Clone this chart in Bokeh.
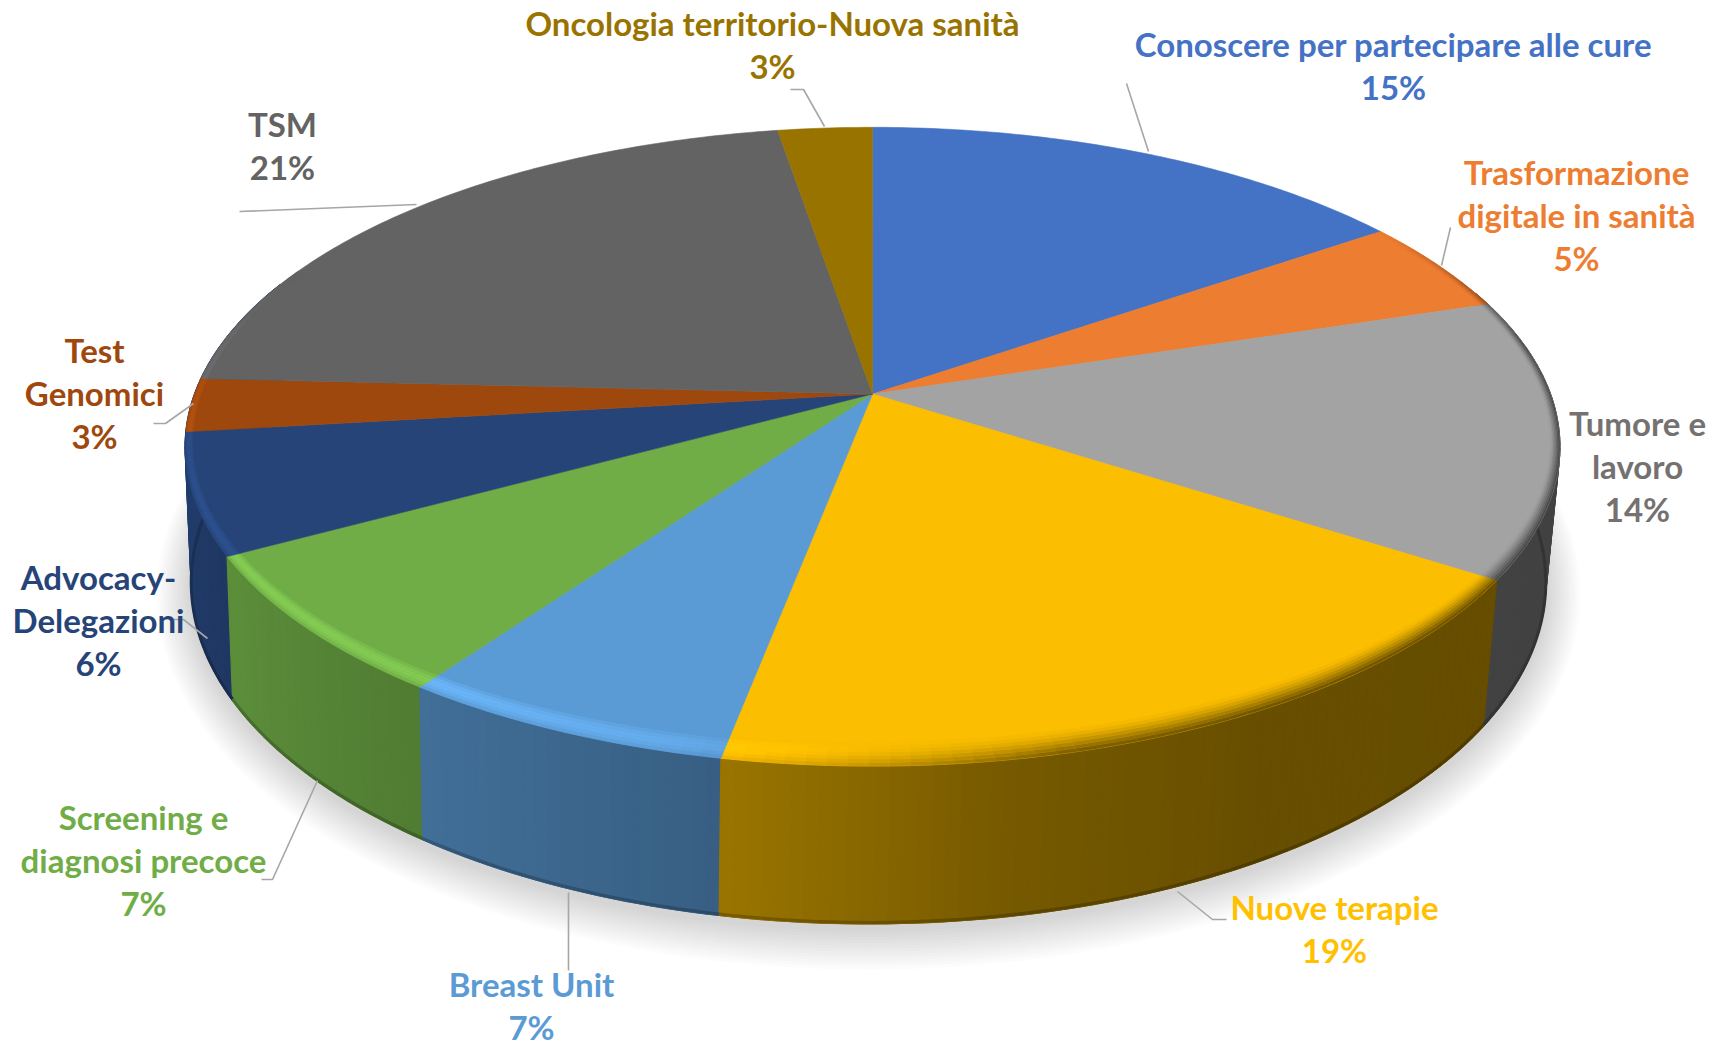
import numpy as np
from bokeh.plotting import figure
from bokeh.models import Range1d, ColumnDataSource
from bokeh.core.properties import value
from bokeh.embed import file_html
from bokeh.resources import INLINE

# ---- data
categories = ["Conoscere per partecipare alle cure", "Trasformazione digitale in sanità",
              "Tumore e lavoro", "Nuove terapie", "Breast Unit", "Screening e diagnosi precoce",
              "Advocacy-Delegazioni", "Test Genomici", "TSM", "Oncologia territorio-Nuova sanità"]
shares = [15.3, 4.8, 14.1, 18.8, 6.8, 7.2, 6.1, 2.7, 21.6, 2.6]
percent_labels = ["15%", "5%", "14%", "19%", "7%", "7%", "6%", "3%", "21%", "3%"]
colors = ["#4472C4", "#ED7D31", "#A3A3A3", "#FBBE00", "#5B9BD5", "#70AD47", "#264478", "#9E480E", "#636363", "#997300"]
text_colors = ["#4472C4", "#ED7D31", "#767171", "#FFC000", "#5B9BD5", "#70AD47", "#264478", "#9E480E", "#636363", "#997300"]

# ---- layout (page pixels of the reference)
label_lines = [["Conoscere per partecipare alle cure"], ["Trasformazione", "digitale in sanità"],
               ["Tumore e", "lavoro"], ["Nuove terapie"], ["Breast Unit"], ["Screening e", "diagnosi precoce"],
               ["Advocacy-", "Delegazioni"], ["Test", "Genomici"], ["TSM"], ["Oncologia territorio-Nuova sanità"]]
label_pos = [(1393, 43), (1576, 171), (1637, 422), (1334, 906), (531, 983), (143, 816), (98, 576), (94, 349), (282, 123), (772, 22)]
LINE_H = 43
FONT = "Lato"
FONT_SIZE = "33px"
leaders = [[(1126, 83), (1148, 151)], [(1450, 227), (1441, 265)], [(1226, 919), (1212, 919), (1177, 891)],
           [(568, 892), (568, 970)], [(261, 879), (272, 879), (317, 780)], [(173, 619), (183, 619), (207, 638)],
           [(153, 423), (165, 423), (193, 403)], [(239, 211), (416, 204)], [(790, 89), (803, 89), (824, 126)]]

CX, CY, R, A, K = 872, 393.5, 678, 310.7, 0.165        # top rim projection
CX2, CY2, R2, A2 = 868, 527, 668, 331                  # lower rim projection
WALL_START, WALL_LAST, WALL_END = 70, 262, 292         # part of the wall that shows


def rim(theta, r=1.0):
    t = np.radians(theta)
    w = 1 + K * r * np.cos(t)
    return CX + r * R * np.sin(t) / w, CY - r * A * np.cos(t) / w


def low(theta, grow=0.0, dy=0.0):
    t = np.radians(theta)
    w = 1 + K * np.cos(t)
    return CX2 + (R2 + grow) * np.sin(t) / w, CY2 + dy - (A2 + grow) * np.cos(t) / w


def hexrgb(h):
    return np.array([int(h[i:i + 2], 16) for i in (1, 3, 5)], float)


def tohex(c):
    c = np.clip(np.round(c), 0, 255).astype(int)
    return "#%02x%02x%02x" % tuple(c)


def side_f(th):
    return np.interp(th, [70, 150, 170, 190, 216, 240, 262, 290], [.40, .41, .47, .61, .72, .82, .88, .9])


def hi_f(th):
    return np.interp(th, [100, 175, 215, 250, 275, 295], [0, .25, .85, 1, .5, 0])


def dark_f(th):
    return np.interp(th, [55, 80, 165, 195], [0, 1, 1, 0])


def bevel_w(th):
    c = np.cos(np.radians(th))
    return 0.013 + 0.042 * (c * c if c < 0 else 0)


p = figure(width=1714, height=1046, output_backend="svg", toolbar_location=None,
           x_range=Range1d(0, 1714), y_range=Range1d(1046, 0), min_border=0)
p.axis.visible = False
p.grid.visible = False
p.outline_line_color = None

edges = np.concatenate([[0], np.cumsum(shares)]) / np.sum(shares) * 360

# soft shadow beneath the disc
full = np.linspace(0, 360, 241)
for e in np.linspace(34, 2, 14):
    sx, sy = low(full, e, 5)
    p.patch(sx, sy, fill_color="black", fill_alpha=0.012, line_color=None)

# side wall: a solid underlay per slice, then one thin strip per step
under_x, under_y, under_c = [], [], []
xs, ys, fc = [], [], []
xd, yd, cd = [], [], []
order = sorted(range(len(colors)), key=lambda i: -abs((edges[i] + edges[i + 1]) / 2 - 180))
for i in order:
    a0, a1 = edges[i], edges[i + 1]
    if a0 >= WALL_LAST:
        continue
    lo = max(a0, WALL_START)
    hi = WALL_END if a1 >= WALL_LAST else a1
    if lo >= hi:
        continue
    steps = max(1, int((hi - lo) / 1.0))
    th = np.linspace(lo, hi, steps + 1)
    base = hexrgb(colors[i])
    rx, ry = rim(th)
    lx, ly = low(th)
    under_x.append(list(rx) + list(lx[::-1]))
    under_y.append(list(ry) + list(ly[::-1]))
    under_c.append(tohex(base * side_f((lo + hi) / 2)))
    for j in range(steps):
        m = (th[j] + th[j + 1]) / 2
        col = base * side_f(m)
        xs.append([rx[j], rx[j + 1], lx[j + 1], lx[j]])
        ys.append([ry[j], ry[j + 1], ly[j + 1], ly[j]])
        fc.append(tohex(col))
        xd.append([lx[j], lx[j + 1]])
        yd.append([ly[j] - 1.5, ly[j + 1] - 1.5])
        cd.append(tohex(col * 0.78))
p.patches(under_x, under_y, fill_color=under_c, line_color=under_c, line_width=1)
p.patches(source=ColumnDataSource(dict(x=xs, y=ys, c=fc)), xs="x", ys="y",
          fill_color="c", line_color="c", line_width=1.2)
p.multi_line(source=ColumnDataSource(dict(x=xd, y=yd, c=cd)), xs="x", ys="y", line_color="c", line_width=3)

# top face
xs, ys, fc = [], [], []
for i, c in enumerate(colors):
    th = np.linspace(edges[i], edges[i + 1], max(3, int((edges[i + 1] - edges[i]) * 1.5)))
    x, y = rim(th)
    xs.append([CX] + list(x))
    ys.append([CY] + list(y))
    fc.append(c)
p.patches(source=ColumnDataSource(dict(x=xs, y=ys, c=fc)), xs="x", ys="y",
          fill_color="c", line_color="c", line_width=0.6)

# bevel along the front of the rim; its edges follow the slice boundaries
xs, ys, fc = [], [], []
NB = 7
for i, c in enumerate(colors):
    lo, hi = max(edges[i], 55), min(edges[i + 1], 295)
    if lo >= hi:
        continue
    th = np.linspace(lo, hi, max(2, int((hi - lo) / 1.5)) + 1)
    base = hexrgb(c)
    for u, v in zip(th[:-1], th[1:]):
        m = (u + v) / 2
        for b in range(NB):
            t0, t1 = b / NB, (b + 1) / NB
            tm = (t0 + t1) / 2
            pts = [rim(u, 1 - t0 * bevel_w(u)), rim(v, 1 - t0 * bevel_w(v)),
                   rim(v, 1 - t1 * bevel_w(v)), rim(u, 1 - t1 * bevel_w(u))]
            col = base * (1 + 0.2 * hi_f(m) * np.sin(np.pi * min(1, tm * 1.1)))
            d = dark_f(m) * (1 - tm) ** 1.2
            col = col * (1 - d) + base * side_f(m) * d
            xs.append([q[0] for q in pts])
            ys.append([q[1] for q in pts])
            fc.append(tohex(col))
p.patches(source=ColumnDataSource(dict(x=xs, y=ys, c=fc)), xs="x", ys="y",
          fill_color="c", line_color="c", line_width=0.4)

# leader lines
p.multi_line([[q[0] for q in l] for l in leaders], [[q[1] for q in l] for l in leaders],
             line_color="#A6A6A6", line_width=1.6)

# labels
tx, ty, tt, tc = [], [], [], []
for lines, pct, pos, col in zip(label_lines, percent_labels, label_pos, text_colors):
    for j, s in enumerate(lines + [pct]):
        tx.append(pos[0])
        ty.append(pos[1] + j * LINE_H)
        tt.append(s)
        tc.append(col)
p.text(source=ColumnDataSource(dict(x=tx, y=ty, t=tt, c=tc)), x="x", y="y", text="t", text_color="c",
       text_font=value(FONT), text_font_style="bold", text_font_size=FONT_SIZE,
       text_align="center", text_baseline="middle")

open("out.html", "w").write(file_html(p, INLINE))
